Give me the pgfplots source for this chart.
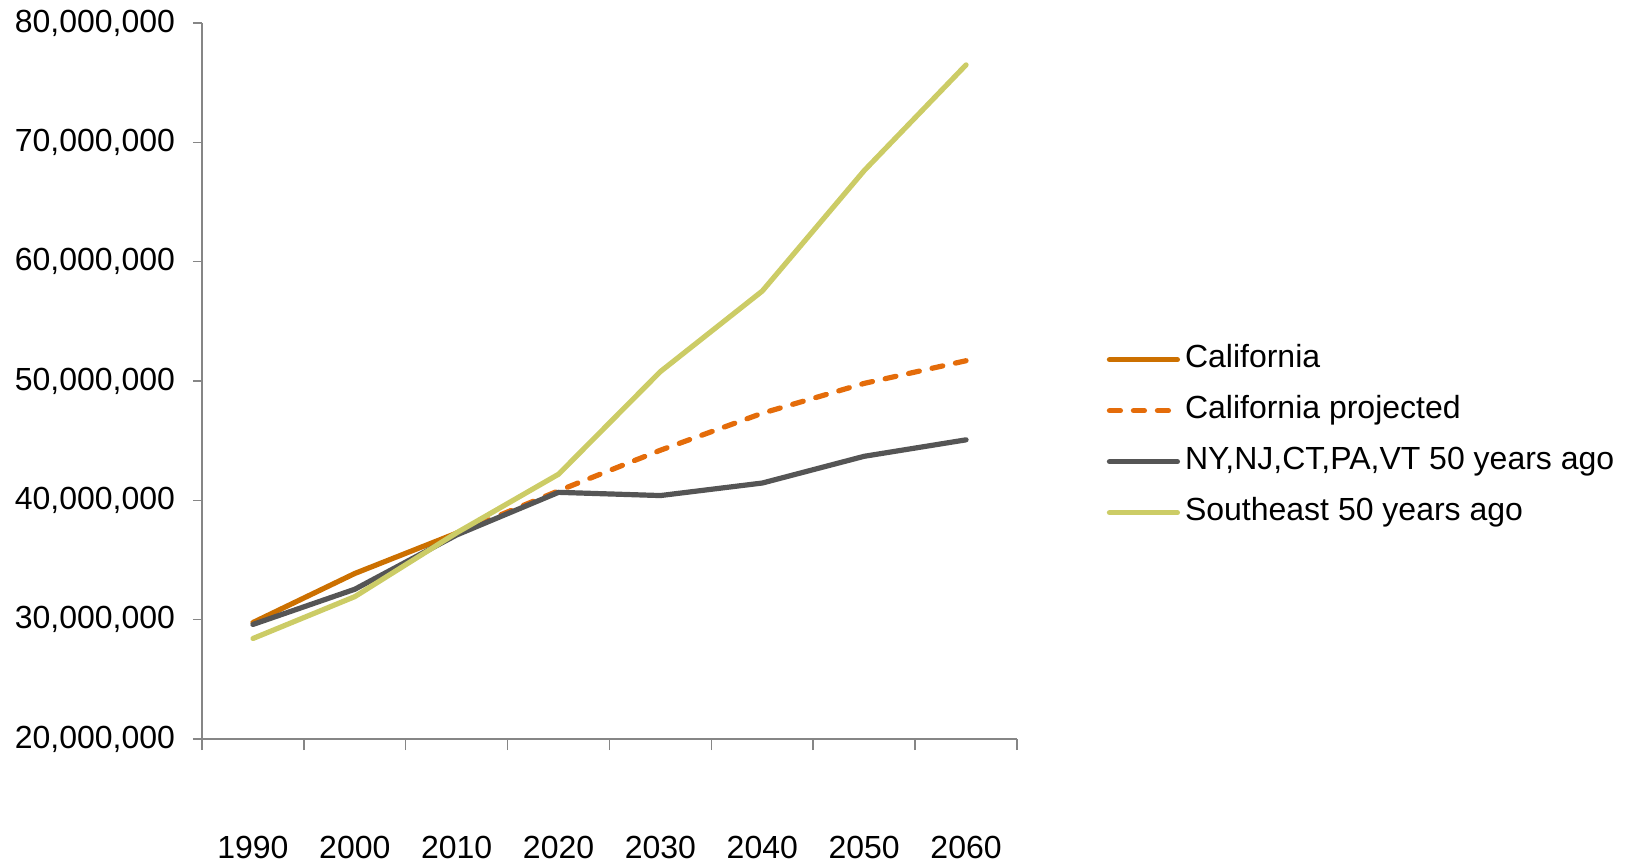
\documentclass[border=0pt]{standalone}
\usepackage{fontspec}
\setmainfont{Liberation Sans}
\usepackage{pgfplots}
\pgfplotsset{compat=1.18}
\definecolor{cal}{RGB}{204,112,0}
\definecolor{calp}{RGB}{228,108,10}
\definecolor{ny}{RGB}{85,85,85}
\definecolor{se}{RGB}{204,204,102}
\definecolor{axg}{RGB}{134,134,134}
\begin{document}
\begin{tikzpicture}
\path[use as bounding box] (-202pt,-126pt) rectangle (1439pt,739pt);
\begin{axis}[
  at={(0,0)}, anchor=south west,
  scale only axis, width=815pt, height=716pt,
  xmin=-0.5, xmax=7.5, ymin=20000000, ymax=80000000,
  axis x line=bottom, axis y line=left,
  axis line style={-, draw=axg, line width=1.5pt},
  ytick={20000000,30000000,40000000,50000000,60000000,70000000,80000000},
  scaled y ticks=false,
  /pgf/number format/.cd, fixed, 1000 sep={,}, assume math mode=true, /pgfplots/.cd,
  xtick={0,1,2,3,4,5,6,7},
  xticklabels={1990,2000,2010,2020,2030,2040,2050,2060},
  xtick style={draw=none},
  extra x ticks={-0.5,0.5,1.5,2.5,3.5,4.5,5.5,6.5,7.5},
  extra x tick labels={},
  extra x tick style={xtick style={draw=axg}, major tick length=11pt},
  tick align=outside, major tick length=9pt,
  tick style={draw=axg, line width=1.5pt},
  tick label style={font=\fontsize{32}{38}\selectfont, text=black},
  xticklabel style={yshift=-85pt},
  yticklabel style={xshift=-14.5pt},
  legend style={at={(1.11,0.551)}, anchor=north west, draw=none, fill=none,
    inner sep=0pt, row sep=21pt,
    nodes={inner xsep=5pt, inner ysep=0pt, text height=23pt, text depth=7pt},
    font=\fontsize{32}{38}\selectfont},
  legend cell align=left,
  legend image code/.code={\draw[#1] (0pt,0pt) -- (68pt,0pt);},
  every axis plot/.append style={line width=5.2pt, line cap=round, line join=round},
]
\addplot[cal] coordinates {(0,29760021) (1,33871648) (2,37253956)};
\addlegendentry{California}
\addplot[calp, dash pattern=on 11pt off 13pt] coordinates {(2,37253956) (3,40800000) (4,44200000) (5,47300000) (6,49800000) (7,51700000)};
\addlegendentry{California projected}
\addplot[ny] coordinates {(0,29600000) (1,32550000) (2,37100000) (3,40670000) (4,40400000) (5,41450000) (6,43690000) (7,45070000)};
\addlegendentry{NY,NJ,CT,PA,VT 50 years ago}
\addplot[se] coordinates {(0,28420000) (1,31930000) (2,37280000) (3,42190000) (4,50790000) (5,57540000) (6,67630000) (7,76490000)};
\addlegendentry{Southeast 50 years ago}
\end{axis}
\end{tikzpicture}
\end{document}
